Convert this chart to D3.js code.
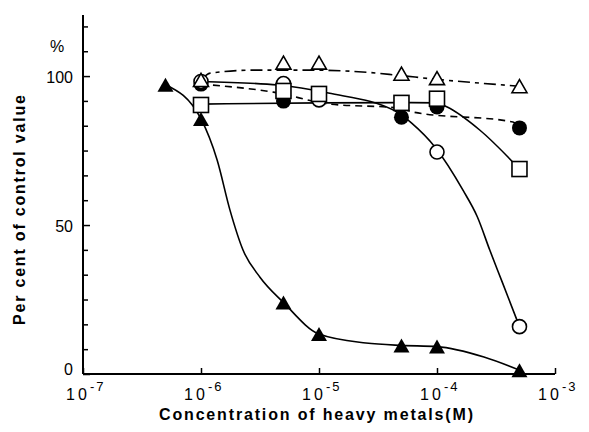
<!DOCTYPE html>
<html>
<head>
<meta charset="utf-8">
<script src="https://cdn.jsdelivr.net/npm/d3@7"></script>
<style>
  html, body { margin: 0; padding: 0; background: #fff; }
  svg { display: block; }
  text { font-family: "Liberation Sans", Arial, Helvetica, sans-serif; fill: #000; }
</style>
</head>
<body>
<svg id="chart" width="589" height="432"></svg>
<script>
// ---- data (concentration in M, percent of control) ----
const decadeTicks = [1e-7, 1e-6, 1e-5, 1e-4, 1e-3];
const decadeExponents = ["-7", "-6", "-5", "-4", "-3"];
const yLabelValues = [0, 50, 100];
const yLabelTexts = ["0", "50", "100"];

const filledTriX = [5e-7, 1e-6, 5e-6, 1e-5, 5e-5, 1e-4, 5e-4];
const filledTriY = [97.1, 85.6, 24, 13.4, 9.6, 9.2, 1.3];
const filledCircX = [1e-6, 5e-6, 5e-5, 1e-4, 5e-4];
const filledCircY = [97.3, 91.6, 86.2, 89.6, 82.6];
const openCircX = [1e-6, 5e-6, 1e-5, 1e-4, 5e-4];
const openCircY = [98.2, 97.5, 92, 74.5, 15.9];
const squareX = [1e-6, 5e-6, 1e-5, 5e-5, 1e-4, 5e-4];
const squareY = [90.3, 95, 94, 91, 92.4, 68.8];
const openTriX = [1e-6, 5e-6, 1e-5, 5e-5, 1e-4, 5e-4];
const openTriY = [98.7, 104.5, 104.5, 100.8, 99.3, 96.6];

// fitted curves
const filledTriFitX = [5e-7, 1e-6, 1.37e-6, 1.76e-6, 2.27e-6, 3.16e-6, 5e-6, 1e-5, 2.5e-5, 5e-5, 1e-4, 2.5e-4, 5e-4];
const filledTriFitY = [97.1, 85.6, 71.8, 55, 41.6, 32.5, 24, 13.4, 10.4, 9.6, 9.2, 5.7, 1.3];
const openCircFitX = [1e-6, 4.5e-6, 1.2e-5, 4.6e-5, 6.1e-5, 9.6e-5, 1.66e-4, 2.2e-4, 2.8e-4, 3.6e-4, 5e-4];
const openCircFitY = [98.2, 97, 94.3, 87.9, 84.2, 76.2, 61.7, 52.7, 41.6, 30.5, 15.9];
const squareFitX = [1e-6, 1e-5, 5e-5, 1e-4, 1.22e-4, 2.3e-4, 5e-4];
const squareFitY = [90.6, 91, 91.1, 91, 89.6, 81.9, 68.8];
const filledCircFitX = [1e-6, 4.1e-6, 1.24e-5, 4.6e-5, 6.3e-5, 4.4e-4, 5e-4];
const filledCircFitY = [97.3, 94.6, 90.6, 89.3, 87.9, 84.6, 82.6];
const openTriFitX = [1e-6, 1.2e-6, 2.8e-6, 8.4e-6, 2.7e-5, 4.6e-5, 1e-4, 5e-4];
const openTriFitY = [98.7, 101, 102, 102, 101.2, 100.3, 98.9, 96.6];

// ---- layout ----
const svg = d3.select("#chart");
const x = d3.scaleLog().domain([1e-7, 1e-3]).range([83, 555]);
const y = d3.scaleLinear().domain([0, 120.5]).range([374, 15]);

const zip = (a, b) => a.map((v, i) => [v, b[i]]);
const line = d3.line().x(d => x(d[0])).y(d => y(d[1])).curve(d3.curveMonotoneX);

// ---- axes ----
const minorStep = 50 / 6;
const yTickVals = d3.range(0, 15).map(i => i * minorStep).filter(v => v <= 120.5);

const yAxis = d3.axisRight(y).tickValues(yTickVals).tickSize(5).tickFormat("");
const gy = svg.append("g").attr("transform", "translate(83,0)").call(yAxis);
gy.select(".domain").attr("stroke-width", 2).attr("d", `M0,${y(120.5)}V${y(0)}`);
gy.selectAll(".tick line")
  .attr("stroke-width", 1.5)
  .attr("x2", d => (Math.abs(d % 50) < 0.01 ? 7 : 5));

svg.append("g").selectAll("text").data(yLabelValues).join("text")
  .attr("x", 73)
  .attr("y", d => y(d) + (d === 0 ? 1 : 7))
  .attr("text-anchor", "end")
  .attr("font-size", 16)
  .text((d, i) => yLabelTexts[i]);

svg.append("text").attr("x", 57).attr("y", 52).attr("text-anchor", "middle")
  .attr("font-size", 16).text("%");

const xAxis = d3.axisTop(x).tickValues(decadeTicks).tickSize(6).tickFormat("");
const gx = svg.append("g").attr("transform", "translate(0,374)").call(xAxis);
gx.select(".domain").attr("stroke-width", 2).attr("d", `M${x(1e-7)},0H${x(1e-3)}`);
gx.selectAll(".tick line").attr("stroke-width", 1.5);

const xl = svg.append("g").selectAll("g").data(decadeTicks).join("g");
xl.append("text")
  .attr("x", d => x(d) - 17).attr("y", 400)
  .attr("font-size", 16).attr("letter-spacing", 3)
  .text("10");
xl.append("text")
  .attr("x", d => x(d) + 7).attr("y", 391)
  .attr("font-size", 13).attr("letter-spacing", 2)
  .text((d, i) => decadeExponents[i]);

svg.append("text")
  .attr("x", 316).attr("y", 420).attr("text-anchor", "middle")
  .attr("font-size", 16).attr("font-weight", "bold")
  .attr("textLength", 314).attr("lengthAdjust", "spacing")
  .text("Concentration of heavy metals(M)");

svg.append("text")
  .attr("transform", "translate(25,210) rotate(-90)")
  .attr("text-anchor", "middle")
  .attr("font-size", 16).attr("font-weight", "bold")
  .attr("textLength", 230).attr("lengthAdjust", "spacing")
  .text("Per cent of control value");

// ---- curves ----
const curves = svg.append("g").attr("fill", "none").attr("stroke", "#000").attr("stroke-width", 1.6);
curves.append("path").attr("d", line(zip(filledTriFitX, filledTriFitY)));
curves.append("path").attr("d", line(zip(openCircFitX, openCircFitY)));
curves.append("path").attr("d", line(zip(squareFitX, squareFitY)));
curves.append("path").attr("d", line(zip(filledCircFitX, filledCircFitY))).attr("stroke-dasharray", "7,5");
curves.append("path").attr("d", line(zip(openTriFitX, openTriFitY))).attr("stroke-dasharray", "12,5,4,5");

// ---- markers ----
const triPath = (cx, cy, w, h) => `M${cx - w / 2},${cy + h / 2}L${cx + w / 2},${cy + h / 2}L${cx},${cy - h / 2}Z`;

const m = svg.append("g");
m.selectAll(".ftri").data(zip(filledTriX, filledTriY)).join("path")
  .attr("d", d => triPath(x(d[0]), y(d[1]), 16, 14)).attr("fill", "#000");

m.selectAll(".fcirc").data(zip(filledCircX, filledCircY)).join("circle")
  .attr("cx", d => x(d[0])).attr("cy", d => y(d[1])).attr("r", 7.5).attr("fill", "#000");

m.selectAll(".ocirc").data(zip(openCircX, openCircY)).join("circle")
  .attr("cx", d => x(d[0])).attr("cy", d => y(d[1])).attr("r", 7)
  .attr("fill", "#fff").attr("stroke", "#000").attr("stroke-width", 1.6);

m.selectAll(".sq").data(zip(squareX, squareY)).join("rect")
  .attr("x", d => x(d[0]) - 7.5).attr("y", d => y(d[1]) - 7.5)
  .attr("width", 15).attr("height", 15)
  .attr("fill", "#fff").attr("stroke", "#000").attr("stroke-width", 1.6);

m.selectAll(".otri").data(zip(openTriX, openTriY)).join("path")
  .attr("d", d => triPath(x(d[0]), y(d[1]), 15, 13))
  .attr("fill", "#fff").attr("stroke", "#000").attr("stroke-width", 1.6)
  .attr("stroke-linejoin", "miter");
</script>
</body>
</html>
